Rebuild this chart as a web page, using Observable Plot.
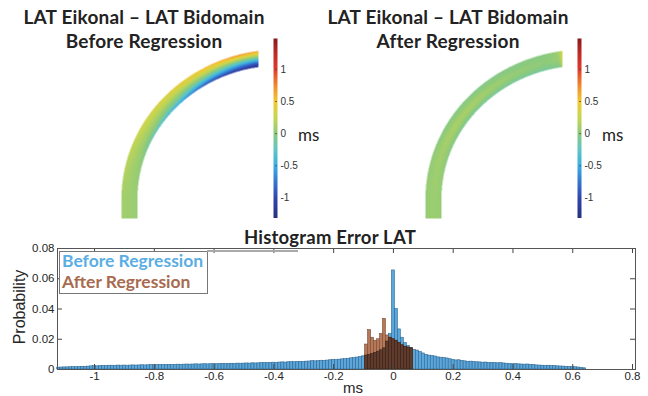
<!DOCTYPE html>
<html><head><meta charset="utf-8">
<script src="https://cdn.jsdelivr.net/npm/d3@7"></script>
<script src="https://cdn.jsdelivr.net/npm/@observablehq/plot@0.6"></script>
<style>
body{margin:0;background:#fff;}
#fig{position:relative;width:648px;height:396px;overflow:hidden;font-family:Lato,"Open Sans",sans-serif;color:#262626;}
.abs{position:absolute;}
.ttl{position:absolute;font-family:Lato,sans-serif;font-weight:700;font-size:19px;line-height:24px;letter-spacing:0.2px;text-align:center;white-space:nowrap;color:#222;}
.ms{position:absolute;font-family:Lato,sans-serif;font-size:17px;line-height:20px;color:#222;}
</style></head><body><div id="fig"></div>
<script>
// ---------------- DATA ----------------
// Histogram (probability per 0.01 ms bin), bin centres start at these values
const binWidth = 0.01;
const beforeFirstCenter = -1.12;
const beforeProb = [
  0.0012,0.0013,0.0014,0.0014,0.0015,0.0016,0.0015,0.0017,0.0018,0.0018,
  0.0019,0.0021,0.0022,0.0021,0.0023,0.0024,0.0023,0.0025,0.0025,0.0024,
  0.0026,0.0025,0.0026,0.0025,0.0026,0.0027,0.0026,0.0027,0.0028,0.0027,
  0.0028,0.0029,0.0028,0.0029,0.0030,0.0029,0.0030,0.0031,0.0030,0.0031,
  0.0032,0.0031,0.0032,0.0033,0.0032,0.0033,0.0034,0.0033,0.0034,0.0035,
  0.0034,0.0035,0.0036,0.0035,0.0036,0.0037,0.0036,0.0037,0.0038,0.0037,
  0.0039,0.0038,0.0039,0.0040,0.0039,0.0041,0.0040,0.0041,0.0042,0.0043,
  0.0042,0.0044,0.0045,0.0044,0.0046,0.0047,0.0046,0.0048,0.0049,0.0048,
  0.0050,0.0051,0.0050,0.0052,0.0053,0.0055,0.0054,0.0056,0.0058,0.0057,
  0.0059,0.0061,0.0063,0.0062,0.0065,0.0067,0.0069,0.0071,0.0074,0.0076,
  0.0079,0.0083,0.0087,0.0092,0.0097,0.0103,0.0110,0.0118,0.0127,0.0140,
  0.0185,0.0235,0.0655,0.0400,0.0265,0.0210,0.0175,0.0155,0.0142,0.0130,
  0.0125,0.0115,0.0106,0.0097,0.0092,0.0089,0.0086,0.0080,0.0078,0.0075,
  0.0073,0.0068,0.0063,0.0060,0.0061,0.0057,0.0054,0.0051,0.0052,0.0049,
  0.0048,0.0047,0.0045,0.0046,0.0043,0.0044,0.0042,0.0041,0.0042,0.0040,
  0.0038,0.0036,0.0035,0.0036,0.0034,0.0033,0.0032,0.0033,0.0031,0.0029,
  0.0027,0.0026,0.0025,0.0024,0.0025,0.0023,0.0022,0.0021,0.0020,0.0019,
  0.0018,0.0017,0.0016,0.0015,0.0013,0.0011,0.0008
];
const afterFirstCenter = -0.09;
const afterProb = [
  0.0165,0.0260,0.0210,0.0190,0.0200,0.0235,0.0335,0.0225,
  0.0210,0.0200,0.0190,0.0175,0.0160,0.0150,0.0145,0.0140
];
const histXTicks = [-1,-0.8,-0.6,-0.4,-0.2,0,0.2,0.4,0.6,0.8];
const histYTicks = [0,0.02,0.04,0.06,0.08];
const histXDomain = [-1.124,0.81];
const histYDomain = [0,0.08];

// Colour bar
const cbDomain = [-1.32, 1.48];
const cbTicks = [-1,-0.5,0,0.5,1];
const colorStops = [-1.32,-1.0,-0.75,-0.5,-0.25,0,0.25,0.5,0.75,1.0,1.25,1.48];
const colorRange = ["#26307f","#3346b0","#3575cf","#3aaee4","#5fc6c4","#8cca7e","#c7d650","#f2c933","#ef8a2f","#e2392b","#c02a25","#851c1c"];

// LAT error field on the tissue strip: rows = angle stations (deg), cols = position across strip (inner -> outer)
const fieldAngles = [180,165,150,135,120,105,100,97.5];
const fieldAcross = [0,0.25,0.5,0.75,1];
const beforeField = [
  [0.06,0.07,0.08,0.09,0.10],
  [0.00,0.05,0.10,0.15,0.20],
  [-0.25,0.00,0.12,0.22,0.30],
  [-0.55,-0.15,0.08,0.25,0.40],
  [-1.00,-0.50,-0.05,0.30,0.55],
  [-1.20,-0.80,-0.30,0.25,0.75],
  [-1.25,-0.90,-0.35,0.22,0.70],
  [-1.20,-0.85,-0.30,0.25,0.65]
];
const afterField = [
  [0.05,0.06,0.07,0.06,0.05],
  [0.00,0.06,0.10,0.06,0.02],
  [-0.08,0.05,0.14,0.05,-0.03],
  [-0.12,0.03,0.12,0.03,-0.05],
  [-0.12,0.00,0.06,0.00,-0.04],
  [-0.12,-0.03,0.02,0.00,-0.02],
  [-0.05,0.00,0.05,0.05,0.05],
  [0.35,0.40,0.42,0.40,0.38]
];

// ---------------- DRAWING ----------------
const fig = document.getElementById("fig");
const colorOpts = {type:"linear", domain: colorStops, range: colorRange, clamp:true};
function place(node, left, top){ node.style.position="absolute"; node.style.left=left+"px"; node.style.top=top+"px"; fig.appendChild(node); return node; }
function div(cls, html, left, top, extra){ const d=document.createElement("div"); d.className=cls; d.innerHTML=html; place(d,left,top); if(extra) Object.assign(d.style, extra); return d; }

// strip geometry (panel-local px)
const G = {cx:180, cy:158, rx:159, ry:149, th:16, xEnd:158, yBottom:178};
G.xOuter = G.cx - G.rx;
function lookup(table, a, t){
  a = Math.max(fieldAngles[fieldAngles.length-1], Math.min(180, a));
  let i = 0;
  while (i < fieldAngles.length-2 && a < fieldAngles[i+1]) i++;
  const u = (fieldAngles[i]-a)/(fieldAngles[i]-fieldAngles[i+1]);
  const n = fieldAcross.length-1;
  let j = Math.min(n-1, Math.max(0, Math.floor(t*n)));
  const v = Math.max(0, Math.min(1, t*n - j));
  const r0 = table[i][j]*(1-v) + table[i][j+1]*v;
  const r1 = table[i+1][j]*(1-v) + table[i+1][j+1]*v;
  return r0*(1-u) + r1*u;
}
function makeField(table){
  return (x, y) => {
    let t, a;
    if (y >= G.cy) {
      if (y > G.yBottom || x < G.xOuter || x > G.xOuter + G.th) return NaN;
      t = (G.xOuter + G.th - x)/G.th; a = 180;
    } else {
      const dx = x - G.cx, dy = G.cy - y;
      if (x > G.xEnd) return NaN;
      const ro = Math.hypot(dx/G.rx, dy/G.ry);
      const ri = Math.hypot(dx/(G.rx-G.th), dy/(G.ry-G.th));
      if (ro > 1 || ri < 1) return NaN;
      t = (ri-1)/((ri-1)+(1-ro));
      a = Math.atan2(dy/G.ry, dx/G.rx)*180/Math.PI;
    }
    return lookup(table, a, t);
  };
}
function stripPlot(table){
  return Plot.plot({
    width:170, height:185, margin:0,
    x:{domain:[0,170], axis:null}, y:{domain:[185,0], axis:null},
    color: colorOpts,
    marks:[Plot.raster({fill: makeField(table), x1:0, x2:170, y1:0, y2:185, pixelSize:0.5})]
  });
}
function colorbar(){
  return Plot.plot({
    width:40, height:180, marginLeft:0, marginRight:36, marginTop:0, marginBottom:0,
    style:{fontFamily:"'Liberation Sans',Arial,sans-serif", fontSize:"10px", color:"#333", background:"transparent"},
    x:{domain:[0,1], axis:null},
    y:{domain:cbDomain, ticks:cbTicks, axis:"right", tickSize:0, tickPadding:3, tickFormat:d=>String(d), label:null},
    color: colorOpts,
    marks:[
      Plot.raster({fill:(x,y)=>y, x1:0, x2:1, y1:cbDomain[0], y2:cbDomain[1], width:1, height:360}),
      Plot.ruleY(cbTicks,{y:d=>d, x1:0.55, x2:1, stroke:"#444", strokeWidth:0.8})
    ]
  });
}

// top panels
place(stripPlot(beforeField), 100, 40);
place(stripPlot(afterField), 404, 40);
place(colorbar(), 273, 38);
place(colorbar(), 577, 38);
div("ms","ms",298,125);
div("ms","ms",602,125);
div("ttl","LAT Eikonal – LAT Bidomain<br>Before Regression",-6,5,{width:"300px"});
div("ttl","LAT Eikonal – LAT Bidomain<br>After Regression",298,5,{width:"300px"});

// histogram
const r3 = v => Math.round(v*1000)/1000;
const before = beforeProb.map((p,i)=>({c:r3(beforeFirstCenter+i*binWidth), p}));
const after = afterProb.map((p,i)=>({c:r3(afterFirstCenter+i*binWidth), p}));
const beforeByC = new Map(before.map(d=>[d.c.toFixed(2), d.p]));
const overlap = after.map(d=>({c:d.c, p:Math.min(d.p, beforeByC.get(d.c.toFixed(2)) ?? 0)}));
const bx1 = d=>d.c-binWidth/2, bx2 = d=>d.c+binWidth/2;
const tdx = 5*(histXDomain[1]-histXDomain[0])/578, tdy = 5*(histYDomain[1]-histYDomain[0])/121;
const hist = Plot.plot({
  width:648, height:156, marginLeft:57, marginRight:13, marginTop:8, marginBottom:27,
  style:{fontFamily:"'Liberation Sans',Arial,sans-serif", fontSize:"11.5px", color:"#262626", background:"transparent"},
  x:{domain:histXDomain, ticks:histXTicks, tickSize:0, tickPadding:2, tickFormat:d=>String(d), label:null},
  y:{domain:histYDomain, ticks:histYTicks, tickSize:0, tickPadding:3, tickFormat:d=>String(d), label:null},
  marks:[
    Plot.rectY(before,{x1:bx1, x2:bx2, y:"p", fill:"#5ba6db", stroke:"#2f6790", strokeWidth:0.6}),
    Plot.rectY(after,{x1:bx1, x2:bx2, y:"p", fill:"#b5795a", stroke:"#7a4a33", strokeWidth:0.6}),
    Plot.rectY(overlap,{x1:bx1, x2:bx2, y:"p", fill:"#5e3b2c", stroke:"#3a2216", strokeWidth:0.6}),
    Plot.ruleX(histXTicks,{x:d=>d, y1:histYDomain[0], y2:histYDomain[0]+tdy, stroke:"#444"}),
    Plot.ruleX(histXTicks,{x:d=>d, y1:histYDomain[1]-tdy, y2:histYDomain[1], stroke:"#444"}),
    Plot.ruleY(histYTicks,{y:d=>d, x1:histXDomain[0], x2:histXDomain[0]+tdx, stroke:"#444"}),
    Plot.ruleY(histYTicks,{y:d=>d, x1:histXDomain[1]-tdx, x2:histXDomain[1], stroke:"#444"}),
    Plot.frame({stroke:"#555"})
  ]
});
place(hist, 0, 240);
div("ttl","Histogram Error LAT",180,225,{width:"300px",fontSize:"18.5px"});
// legend
div("abs","",59,251,{width:"147px",height:"41px",border:"1px solid #777",background:"#fff"});
div("abs","",207,250,{width:"91px",height:"2px",background:"#a9a9a9"});
div("ttl","<span style='color:#5aaee3'>Before Regression</span><br><span style='color:#a86b4f'>After Regression</span>",62,250,{textAlign:"left",lineHeight:"21px",fontSize:"17.5px",letterSpacing:"0px"});
// axis labels
div("abs","Probability",20,307,{fontFamily:"'Liberation Sans',Arial,sans-serif",fontSize:"16px",whiteSpace:"nowrap",transform:"translate(-50%,-50%) rotate(-90deg)"});
div("abs","ms",353,387,{fontFamily:"'Liberation Sans',Arial,sans-serif",fontSize:"15px",lineHeight:"17px",whiteSpace:"nowrap",transform:"translate(-50%,-50%)"});
</script></body></html>
